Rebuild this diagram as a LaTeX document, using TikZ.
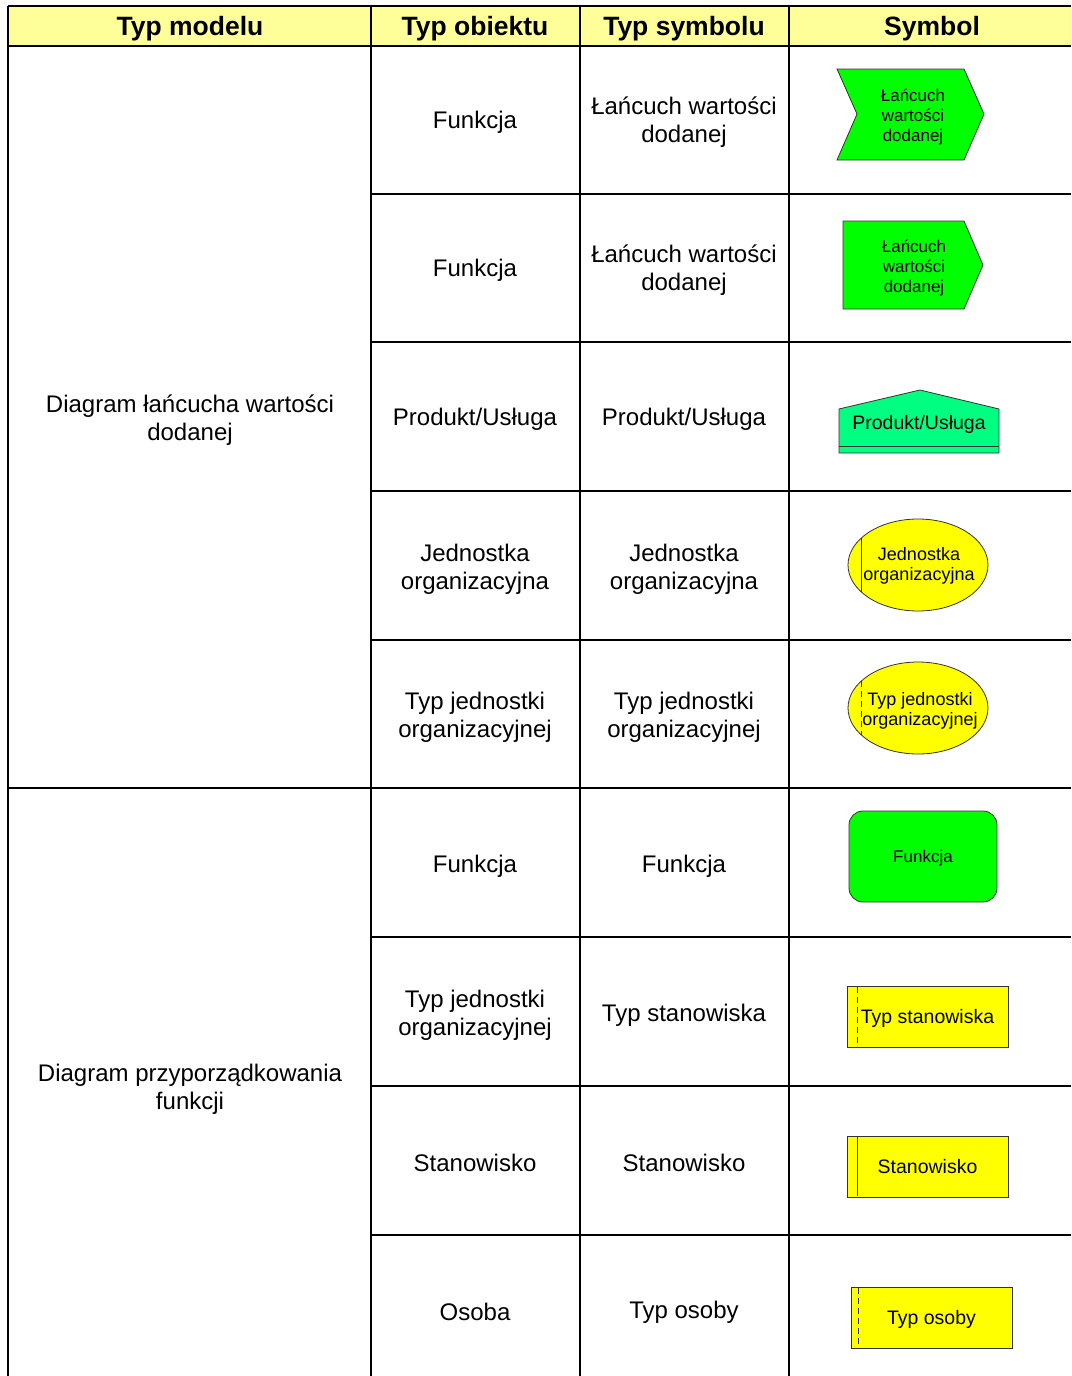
\documentclass[tikz,border=0pt]{standalone}
\usepackage{fontspec}
\setmainfont{Liberation Sans}
\definecolor{headyellow}{HTML}{FFFF99}
\definecolor{fungreen}{HTML}{00FF00}
\definecolor{prodgreen}{HTML}{00FF80}
\definecolor{orgyellow}{HTML}{FFFF00}

\begin{document}
\begin{tikzpicture}[x=1pt,y=-1pt,
   gridline/.style={line width=2.6pt},
   headtext/.style={font=\fontsize{26.5}{30}\selectfont\bfseries},
   celltext/.style={align=center,font=\fontsize{24}{28}\selectfont},
   symtext/.style={align=center,font=\fontsize{#1}{20}\selectfont,inner sep=0pt},
   symline/.style={draw=black!80,line width=0.8pt}]
   \useasboundingbox (0,0) rectangle (1071,1376);
   \fill [headyellow] (8,6) rectangle (1071,46); % header
   \draw [gridline] (8,6) -- (1071,6);
   \foreach \x in {8,371,580,789} \draw [gridline] (\x,6) -- (\x,1376); % columns
   \foreach \y in {46,788} \draw [gridline] (8,\y) -- (1071,\y);
   \foreach \y in {194,342,491,640,937,1086,1235} \draw [gridline] (371,\y) -- (1071,\y); % rows
   \node [headtext] (hmodel) at (190,29) {Typ modelu};
   \node [headtext] (hobj) at (475,29) {Typ obiektu};
   \node [headtext] (htyp) at (684,29) {Typ symbolu};
   \node [headtext] (hsym) at (932,29) {Symbol};
   \node [celltext] (m1) at (190,420) {Diagram łańcucha wartości\\dodanej};
   \node [celltext] (m2) at (190,1089) {Diagram przyporządkowania\\funkcji};
   \node [celltext] (o1) at (475,122) {Funkcja};
   \node [celltext] (t1) at (684,122) {Łańcuch wartości\\dodanej};
   \node [celltext] (o2) at (475,270) {Funkcja};
   \node [celltext] (t2) at (684,270) {Łańcuch wartości\\dodanej};
   \node [celltext] (o3) at (475,419) {Produkt/Usługa};
   \node [celltext] (t3) at (684,419) {Produkt/Usługa};
   \node [celltext] (o4) at (475,569) {Jednostka\\organizacyjna};
   \node [celltext] (t4) at (684,569) {Jednostka\\organizacyjna};
   \node [celltext] (o5) at (475,717) {Typ jednostki\\organizacyjnej};
   \node [celltext] (t5) at (684,717) {Typ jednostki\\organizacyjnej};
   \node [celltext] (o6) at (475,866) {Funkcja};
   \node [celltext] (t6) at (684,866) {Funkcja};
   \node [celltext] (o7) at (475,1015) {Typ jednostki\\organizacyjnej};
   \node [celltext] (t7) at (684,1015) {Typ stanowiska};
   \node [celltext] (o8) at (475,1163) {Stanowisko};
   \node [celltext] (t8) at (684,1163) {Stanowisko};
   \node [celltext] (o9) at (475,1312) {Osoba};
   \node [celltext] (t9) at (684,1312) {Typ osoby};
   % symbols
   \draw [symline,fill=fungreen] (837,69) -- (964,69) -- (984,114) -- (964,160) -- (837,160) -- (857,114) -- cycle; % chevron
   \node [symtext=17] (s1) at (913,117) {Łańcuch\\wartości\\dodanej};
   \draw [symline,fill=fungreen] (843,221) -- (964,221) -- (983,265) -- (964,309) -- (843,309) -- cycle; % arrow box
   \node [symtext=17] (s2) at (914,268) {Łańcuch\\wartości\\dodanej};
   \draw [symline,fill=prodgreen] (839,453) -- (839,409) -- (920,390) -- (999,409) -- (999,453) -- cycle; % product
   \draw [symline] (839,446) -- (999,446);
   \node [symtext=19.5] (s3) at (919,424) {Produkt/Usługa};
   \draw [symline,fill=orgyellow] (918,565) ellipse [x radius=70,y radius=46]; % ellipse
   \draw [symline] (861,538) -- (861,592);
   \node [symtext=18] (s4) at (919,566) {Jednostka\\organizacyjna};
   \draw [symline,fill=orgyellow] (918,708) ellipse [x radius=70,y radius=46];
   \draw [symline,dash pattern=on 6pt off 4pt] (861,681) -- (861,735);
   \node [symtext=18] (s5) at (920,711) {Typ jednostki\\organizacyjnej};
   \node [symline,symtext=17,text depth=0pt,rounded corners=14pt,fill=fungreen,minimum width=148pt,minimum height=91pt] (s6) at (923,856.5) {Funkcja};
   \node [symline,symtext=19.5,text depth=0pt,fill=orgyellow,minimum width=161pt,minimum height=61pt] (s7) at (927.5,1016.5) {Typ stanowiska};
   \draw [symline,dash pattern=on 6pt off 4pt] (857,987) -- (857,1046);
   \node [symline,symtext=19.5,fill=orgyellow,minimum width=161pt,minimum height=61pt] (s8) at (927.5,1166.5) {Stanowisko};
   \draw [symline] (857,1137) -- (857,1196);
   \node [symline,symtext=19.5,text depth=0pt,fill=orgyellow,minimum width=161pt,minimum height=61pt] (s9) at (931.5,1317.5) {Typ osoby};
   \draw [symline,dash pattern=on 6pt off 4pt] (858,1288) -- (858,1347);
\end{tikzpicture}
\end{document}
